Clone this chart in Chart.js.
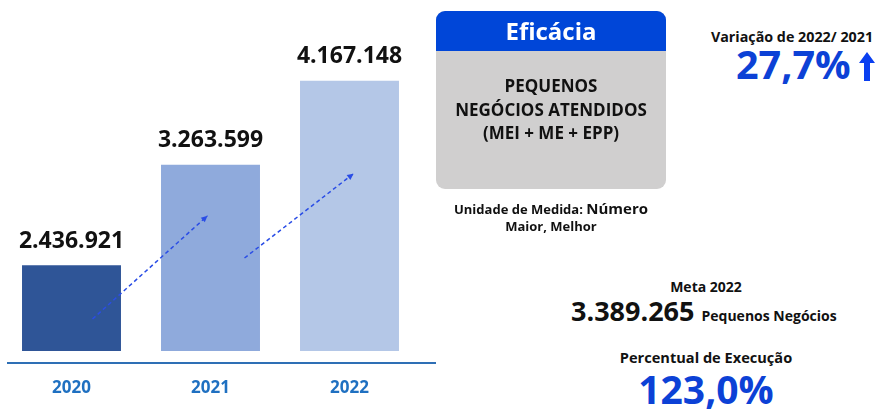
<!DOCTYPE html>
<html>
<head>
<meta charset="utf-8">
<script src="https://cdn.jsdelivr.net/npm/chart.js@4"></script>
<style>
  body { margin: 0; width: 880px; height: 409px; background: #fff; position: relative; overflow: hidden;
         font-family: "Open Sans", sans-serif; font-weight: bold; color: #111; }
  #chartBox { position: absolute; left: 0; top: 0; width: 440px; height: 409px; }
  .axisLine { position: absolute; left: 7px; top: 362px; width: 429px; height: 2px; background: #2e6fb5; }
  .t { position: absolute; line-height: 1; white-space: nowrap; }
  .card { position: absolute; left: 436px; top: 11px; width: 230px; height: 178px; border-radius: 9px;
          overflow: hidden; background: #d0cfcf; }
  .card .head { height: 40px; background: #0046d8; color: #fff; font-size: 24px; text-align: center; line-height: 40px; }
  .card .body { padding-top: 23px; font-size: 17px; line-height: 23.5px; text-align: center; color: #111; }
  .blue { color: #0c41d6; }
</style>
</head>
<body>
<div id="chartBox"><canvas id="barChart"></canvas></div>
<div class="axisLine"></div>

<div class="card">
  <div class="head">Eficácia</div>
  <div class="body">PEQUENOS<br>NEGÓCIOS ATENDIDOS<br>(MEI + ME + EPP)</div>
</div>
<div class="t" style="left:436px;width:230px;top:201px;text-align:center;font-size:13px;">Unidade de Medida: <span style="font-size:15px">Número</span></div>
<div class="t" style="left:436px;width:230px;top:220px;text-align:center;font-size:13px;">Maior, Melhor</div>

<div class="t" style="left:690px;width:204px;top:30px;text-align:center;font-size:14.3px;">Variação de 2022/ 2021</div>
<div class="t blue" style="left:736px;top:45px;font-size:39.5px;">27,7%</div>
<svg style="position:absolute;left:859px;top:52px" width="16" height="30" viewBox="0 0 16 30">
  <polygon points="8,0 16,11 11,11 11,29 5,29 5,11 0,11" fill="#0a3ff0"/>
</svg>

<div class="t" style="left:606px;width:200px;top:280px;text-align:center;font-size:14px;">Meta 2022</div>
<div class="t" style="left:571px;top:297px;font-size:27px;">3.389.265 <span style="font-size:14px">Pequenos Negócios</span></div>
<div class="t" style="left:586px;width:240px;top:350px;text-align:center;font-size:14.6px;">Percentual de Execução</div>
<div class="t blue" style="left:586px;width:240px;top:369px;text-align:center;font-size:39px;">123,0%</div>

<script>
const years = ["2020", "2021", "2022"];
const atendidos = [2436921, 3263599, 4167148];
const barColors = ["#2f5597", "#8faadc", "#b4c7e7"];

function fmt(n) {
  return String(n).replace(/\B(?=(\d{3})+(?!\d))/g, ".");
}

// valor em cima de cada barra
const valueLabels = {
  id: "valueLabels",
  afterDatasetsDraw(chart) {
    const ctx = chart.ctx;
    const meta = chart.getDatasetMeta(0);
    ctx.save();
    ctx.font = "bold 23px 'Open Sans'";
    ctx.fillStyle = "#111";
    ctx.textAlign = "center";
    ctx.textBaseline = "middle";
    meta.data.forEach((bar, i) => {
      ctx.fillText(fmt(chart.data.datasets[0].data[i]), bar.x, bar.y - 24);
    });
    ctx.restore();
  }
};

// setas tracejadas entre as barras
const trendArrows = {
  id: "trendArrows",
  afterDatasetsDraw(chart) {
    const ctx = chart.ctx;
    const bars = chart.getDatasetMeta(0).data;
    const segs = [
      [bars[0].x + 21, bars[0].base - 32, bars[1].x - 3, bars[1].y + 51],
      [bars[1].x + 34, bars[1].base - 93, bars[2].x + 4, bars[2].y + 93]
    ];
    ctx.save();
    ctx.strokeStyle = "#2a4de6";
    ctx.fillStyle = "#2a4de6";
    ctx.lineWidth = 1.5;
    segs.forEach(([x1, y1, x2, y2]) => {
      ctx.setLineDash([4, 3]);
      ctx.beginPath();
      ctx.moveTo(x1, y1);
      ctx.lineTo(x2, y2);
      ctx.stroke();
      ctx.setLineDash([]);
      const a = Math.atan2(y2 - y1, x2 - x1);
      ctx.beginPath();
      ctx.moveTo(x2, y2);
      ctx.lineTo(x2 - 7 * Math.cos(a - 0.45), y2 - 7 * Math.sin(a - 0.45));
      ctx.lineTo(x2 - 7 * Math.cos(a + 0.45), y2 - 7 * Math.sin(a + 0.45));
      ctx.closePath();
      ctx.fill();
    });
    ctx.restore();
  }
};

new Chart(document.getElementById("barChart"), {
  type: "bar",
  data: {
    labels: years,
    datasets: [{
      data: atendidos,
      backgroundColor: barColors,
      barPercentage: 0.712,
      categoryPercentage: 1
    }]
  },
  options: {
    responsive: true,
    maintainAspectRatio: false,
    animation: false,
    layout: { padding: { left: 2, right: 21, top: 32, bottom: 0 } },
    scales: {
      x: {
        grid: { display: false, drawTicks: false },
        border: { display: false },
        ticks: { color: "#1f70c1", font: { size: 17, weight: "bold", family: "'Open Sans'" }, padding: 27 },
        afterFit: (s) => { s.height = 58; }
      },
      y: {
        type: "logarithmic",
        display: false,
        min: 1900000,
        max: 4800000
      }
    },
    plugins: {
      legend: { display: false },
      tooltip: { enabled: false }
    }
  },
  plugins: [valueLabels, trendArrows]
});
</script>
</body>
</html>
